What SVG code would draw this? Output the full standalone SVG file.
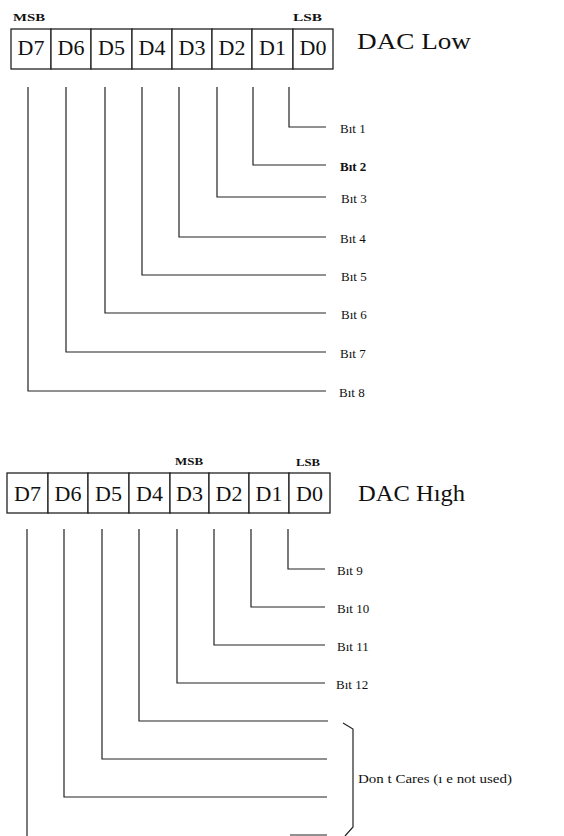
<svg xmlns="http://www.w3.org/2000/svg" width="564" height="836" viewBox="0 0 564 836">
<style>
text{font-family:"Liberation Serif","Times New Roman",serif;fill:#111}
.cell{fill:#fff;stroke:#222;stroke-width:1.3}
.d{font-size:22px;text-anchor:middle}
.tag{font-size:11px;font-weight:bold}
.title{font-size:23px}
.bit{font-size:13px}
.w{fill:none;stroke:#222;stroke-width:1.2}
</style>
<rect width="564" height="836" fill="#fff"/>
<g id="reg-low">
<text class="tag" x="13" y="21" textLength="32" lengthAdjust="spacingAndGlyphs">MSB</text>
<text class="tag" x="293" y="21" textLength="29" lengthAdjust="spacingAndGlyphs">LSB</text>
<rect class="cell" x="11" y="29" width="40" height="40"/>
<rect class="cell" x="51" y="29" width="40" height="40"/>
<rect class="cell" x="91" y="29" width="41" height="40"/>
<rect class="cell" x="132" y="29" width="40" height="40"/>
<rect class="cell" x="172" y="29" width="40" height="40"/>
<rect class="cell" x="212" y="29" width="40" height="40"/>
<rect class="cell" x="252" y="29" width="41" height="40"/>
<rect class="cell" x="293" y="29" width="40" height="40"/>
<text class="d" x="31" y="55">D7</text>
<text class="d" x="71" y="55">D6</text>
<text class="d" x="111.5" y="55">D5</text>
<text class="d" x="152" y="55">D4</text>
<text class="d" x="192" y="55">D3</text>
<text class="d" x="232" y="55">D2</text>
<text class="d" x="272.5" y="55">D1</text>
<text class="d" x="313" y="55">D0</text>
<text class="title" x="357" y="49" textLength="114" lengthAdjust="spacingAndGlyphs">DAC Low</text>
</g>
<g id="reg-high">
<text class="tag" x="175" y="465" textLength="28" lengthAdjust="spacingAndGlyphs">MSB</text>
<text class="tag" x="296" y="466" textLength="24" lengthAdjust="spacingAndGlyphs">LSB</text>
<rect class="cell" x="7" y="473" width="41" height="40"/>
<rect class="cell" x="48" y="473" width="40" height="40"/>
<rect class="cell" x="88" y="473" width="41" height="40"/>
<rect class="cell" x="129" y="473" width="41" height="40"/>
<rect class="cell" x="170" y="473" width="39" height="40"/>
<rect class="cell" x="209" y="473" width="40" height="40"/>
<rect class="cell" x="249" y="473" width="40" height="40"/>
<rect class="cell" x="289" y="473" width="41" height="40"/>
<text class="d" x="27.5" y="501">D7</text>
<text class="d" x="68" y="501">D6</text>
<text class="d" x="108.5" y="501">D5</text>
<text class="d" x="149.5" y="501">D4</text>
<text class="d" x="189.5" y="501">D3</text>
<text class="d" x="229" y="501">D2</text>
<text class="d" x="269" y="501">D1</text>
<text class="d" x="309.5" y="501">D0</text>
<text class="title" x="358" y="501" textLength="107" lengthAdjust="spacingAndGlyphs">DAC Hıgh</text>
</g>
<g id="connectors" class="w">
<polyline points="289,87 289,127 326,127"/>
<polyline points="253,87 253,165 326,165"/>
<polyline points="217,87 217,197 326,197"/>
<polyline points="179,87 179,237 326,237"/>
<polyline points="142,87 142,275 326,275"/>
<polyline points="105,87 105,313 326,313"/>
<polyline points="66,87 66,352 326,352"/>
<polyline points="28,87 28,391 326,391"/>
<polyline points="288,529 288,569 325,569"/>
<polyline points="251,529 251,607 325,607"/>
<polyline points="214,529 214,645 325,645"/>
<polyline points="177,529 177,683 325,683"/>
<polyline points="139,529 139,721 328,721"/>
<polyline points="102,529 102,759 327,759"/>
<polyline points="64,529 64,797 327,797"/>
<polyline points="27,529 27,836"/>
<polyline points="290,835 327,835"/>
</g>
<g id="labels-low">
<text class="bit" x="340" y="133">Bıt 1</text>
<text class="bit" x="340" y="171" font-weight="bold">Bıt 2</text>
<text class="bit" x="341" y="203">Bıt 3</text>
<text class="bit" x="340" y="243">Bıt 4</text>
<text class="bit" x="341" y="281">Bıt 5</text>
<text class="bit" x="341" y="319">Bıt 6</text>
<text class="bit" x="340" y="358">Bıt 7</text>
<text class="bit" x="339" y="397">Bıt 8</text>
</g>
<g id="labels-high">
<text class="bit" x="337" y="575">Bıt 9</text>
<text class="bit" x="337" y="613">Bıt 10</text>
<text class="bit" x="337" y="651">Bıt 11</text>
<text class="bit" x="336" y="689">Bıt 12</text>
</g>
<g id="dont-cares">
<path class="w" d="M343,723 L353,729 L353,827 L345,836"/>
<text class="bit" x="358" y="783" textLength="154" lengthAdjust="spacingAndGlyphs">Don t Cares (ı e  not used)</text>
</g>
</svg>
